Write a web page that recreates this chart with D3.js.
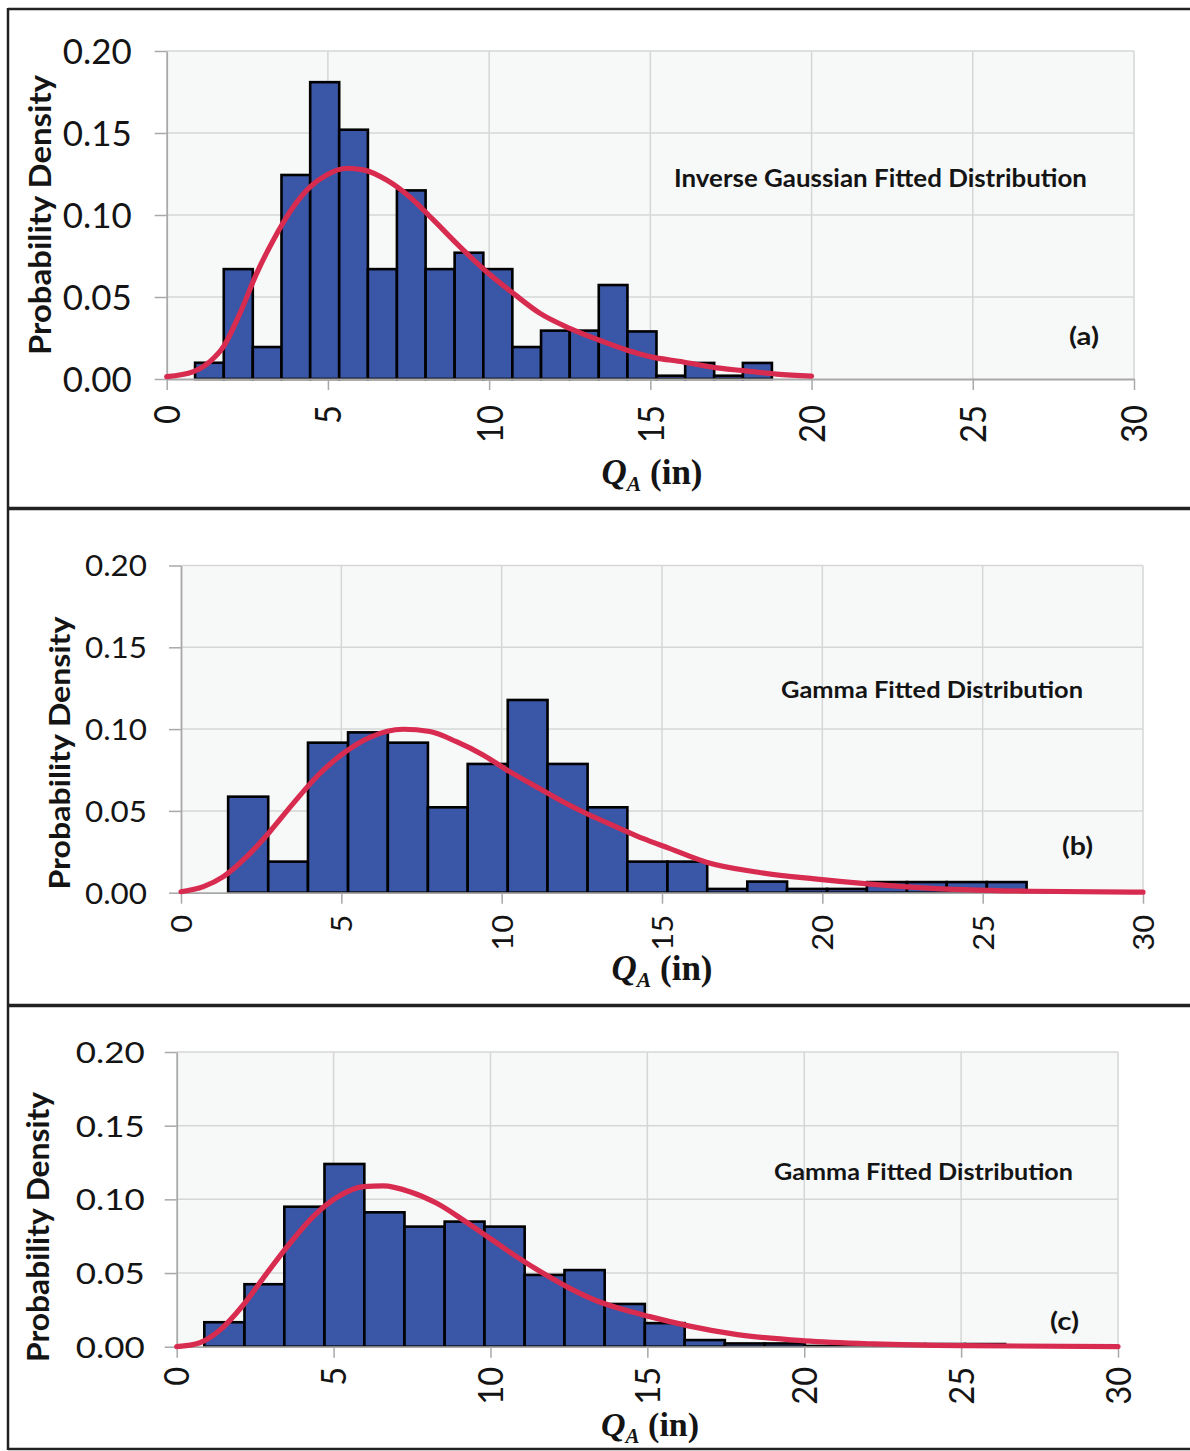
<!DOCTYPE html>
<html>
<head>
<meta charset="utf-8">
<script src="https://cdn.jsdelivr.net/npm/d3@7"></script>
<style>
  html, body { margin: 0; padding: 0; background: #ffffff; }
  svg { display: block; }
</style>
</head>
<body>
<svg id="chart" width="1190" height="1451"></svg>
<script>
// ---------------- DATA ----------------
const xTicks = [0, 5, 10, 15, 20, 25, 30];
const yTicks = [0.00, 0.05, 0.10, 0.15, 0.20];
const panelTags = ["(a)", "(b)", "(c)"];
const fitTitles = ["Inverse Gaussian Fitted Distribution", "Gamma Fitted Distribution", "Gamma Fitted Distribution"];
const yAxisTitle = "Probability Density";

// Panel (a): histogram bin edges (in) and densities
const edgesA = [0.88, 1.77, 2.67, 3.56, 4.45, 5.35, 6.24, 7.14, 8.03, 8.93, 9.82, 10.72, 11.61, 12.50, 13.40, 14.29, 15.19, 16.08, 16.98, 17.87, 18.77];
const densA  = [0.0099, 0.067, 0.0195, 0.1244, 0.181, 0.152, 0.067, 0.115, 0.067, 0.077, 0.067, 0.0195, 0.0295, 0.0295, 0.0573, 0.029, 0.002, 0.0098, 0.002, 0.0098];
// Panel (a): inverse Gaussian fitted curve
const fitXA = [0, 0.83, 1.34, 1.76, 2.27, 2.79, 3.31, 3.93, 4.44, 4.96, 5.58, 6.10, 6.82, 7.54, 8.27, 9.09, 9.92, 10.75, 11.58, 12.50, 13.44, 14.26, 15.10, 16.02, 16.95, 17.88, 18.91, 20.0];
const fitYA = [0.0014, 0.0045, 0.0106, 0.0197, 0.040, 0.0644, 0.0848, 0.105, 0.117, 0.1244, 0.1285, 0.1275, 0.1213, 0.111, 0.097, 0.0807, 0.0654, 0.0522, 0.040, 0.0309, 0.0235, 0.0177, 0.0132, 0.0104, 0.0071, 0.0051, 0.0030, 0.0018];

// Panel (b)
const edgesB = [1.47, 2.72, 3.96, 5.21, 6.45, 7.70, 8.94, 10.19, 11.43, 12.68, 13.92, 15.17, 16.41, 17.66, 18.90, 20.15, 21.39, 22.64, 23.88, 25.13, 26.37];
const densB  = [0.0587, 0.019, 0.0917, 0.098, 0.0917, 0.0522, 0.0787, 0.1178, 0.0787, 0.0522, 0.019, 0.019, 0.0023, 0.0068, 0.0023, 0.0023, 0.0065, 0.0065, 0.0065, 0.0065];
const fitXB = [0, 0.70, 1.32, 2.05, 2.77, 3.50, 4.23, 5.06, 5.89, 6.93, 7.76, 8.59, 9.42, 10.25, 11.08, 11.91, 12.74, 13.57, 14.40, 15.23, 16.41, 18.0, 19.76, 21.5, 23.12, 26.47, 30.0];
const fitYB = [0.0006, 0.0037, 0.0098, 0.022, 0.0373, 0.0546, 0.0709, 0.0852, 0.095, 0.0999, 0.0985, 0.0923, 0.0842, 0.074, 0.0648, 0.0556, 0.0475, 0.0403, 0.0332, 0.0271, 0.0185, 0.0125, 0.0084, 0.0052, 0.0030, 0.0009, 0.0003];

// Panel (c)
const edgesC = [0.88, 2.16, 3.43, 4.71, 5.98, 7.26, 8.54, 9.81, 11.09, 12.36, 13.64, 14.92, 16.19, 17.47, 18.74, 20.02, 21.30, 22.57, 23.85, 25.12, 26.40];
const densC  = [0.0166, 0.0424, 0.095, 0.124, 0.0912, 0.0815, 0.0849, 0.0815, 0.0487, 0.052, 0.029, 0.016, 0.0045, 0.0022, 0.0022, 0.0005, 0.0005, 0.0018, 0.0018, 0.0018];
const fitXC = [0, 0.74, 1.38, 2.12, 2.87, 3.61, 4.35, 5.10, 5.95, 6.58, 7.43, 8.29, 9.13, 9.98, 10.83, 11.68, 12.53, 13.38, 14.23, 15.08, 16.23, 17.87, 20.0, 22.2, 25.0, 30.0];
const fitYC = [0.0, 0.0027, 0.0113, 0.0283, 0.0498, 0.0702, 0.0883, 0.1012, 0.1086, 0.1091, 0.1052, 0.0973, 0.086, 0.0736, 0.0611, 0.0498, 0.0396, 0.0312, 0.0252, 0.0204, 0.0145, 0.0082, 0.0040, 0.0019, 0.0007, 0.0001];

// ---------------- LAYOUT / STYLE ----------------
const layouts = [
  { top: 8, bottom: 508, x0: 166.7, x1: 1134, yTop: 51, yBot: 379,
    yFont: 34, yLen: 69, yPad: 23, xFont: 36, xDigit: 19, xOff: 26,
    ylab: { x: 40, y: 215, len: 280, size: 31 },
    title: { x: 674, y: 187, len: 413, size: 24 },
    tag: { x: 1069, y: 345, len: 30, size: 24 },
    qa: { x: 652, y: 484, size: 35 } },
  { top: 508, bottom: 1005, x0: 181, x1: 1143, yTop: 565.5, yBot: 892.7,
    yFont: 29, yLen: 62, yPad: 22, xFont: 29, xDigit: 18, xOff: 22,
    ylab: { x: 60, y: 753, len: 273, size: 29 },
    title: { x: 781, y: 698, len: 302, size: 23 },
    tag: { x: 1062, y: 855, len: 31, size: 24 },
    qa: { x: 662, y: 980, size: 35 } },
  { top: 1005, bottom: 1449, x0: 176.7, x1: 1118, yTop: 1052, yBot: 1346.7,
    yFont: 29, yLen: 69, yPad: 20, xFont: 34, xDigit: 19, xOff: 20,
    ylab: { x: 38, y: 1227, len: 270, size: 31 },
    title: { x: 774, y: 1180, len: 299, size: 23 },
    tag: { x: 1050, y: 1330, len: 29, size: 24 },
    qa: { x: 650, y: 1436, size: 34 } }
];

const panels = [
  { edges: edgesA, dens: densA, fx: fitXA, fy: fitYA },
  { edges: edgesB, dens: densB, fx: fitXB, fy: fitYB },
  { edges: edgesC, dens: densC, fx: fitXC, fy: fitYC }
];

const BAR_FILL = "#3a56a6";
const CURVE = "#d82b50";
const GRID = "#d6d6d6";
const AXIS = "#a8a8a8";
const PLOT_BG = "#f7f9f9";
const FRAME = "#222222";
const SANS = "Lato, 'Open Sans', sans-serif";
const SERIF = "'Liberation Serif', 'DejaVu Serif', serif";

const svg = d3.select("#chart");

// ---------------- PANELS ----------------
panels.forEach((p, i) => {
  const L = layouts[i];
  const x = d3.scaleLinear().domain([0, 30]).range([L.x0, L.x1]);
  const y = d3.scaleLinear().domain([0, 0.20]).range([L.yBot, L.yTop]);
  const g = svg.append("g");

  // plot background
  g.append("rect")
    .attr("x", x(0)).attr("y", y(0.20))
    .attr("width", x(30) - x(0)).attr("height", y(0) - y(0.20))
    .attr("fill", PLOT_BG);

  // grid
  g.append("g").selectAll("line").data(yTicks.filter(d => d > 0)).join("line")
    .attr("x1", x(0)).attr("x2", x(30))
    .attr("y1", d => y(d)).attr("y2", d => y(d))
    .attr("stroke", GRID).attr("stroke-width", 1.5);
  g.append("g").selectAll("line").data(xTicks.filter(d => d > 0)).join("line")
    .attr("x1", d => x(d)).attr("x2", d => x(d))
    .attr("y1", y(0)).attr("y2", y(0.20))
    .attr("stroke", GRID).attr("stroke-width", 1.5);

  // bars
  const bins = p.dens.map((v, k) => ({ x0: p.edges[k], x1: p.edges[k + 1], v }));
  g.append("g").selectAll("rect").data(bins).join("rect")
    .attr("x", d => x(d.x0))
    .attr("y", d => y(d.v))
    .attr("width", d => x(d.x1) - x(d.x0))
    .attr("height", d => y(0) - y(d.v))
    .attr("fill", BAR_FILL)
    .attr("stroke", "#000")
    .attr("stroke-width", 2.6);

  // axes
  const yAxis = d3.axisLeft(y).tickValues(yTicks).tickFormat(d3.format(".2f"))
    .tickSize(12).tickSizeOuter(0).tickPadding(L.yPad);
  const ya = g.append("g").attr("transform", `translate(${x(0)},0)`).call(yAxis);
  ya.select(".domain").attr("stroke", AXIS).attr("stroke-width", 1.8);
  ya.selectAll(".tick line").attr("stroke", AXIS).attr("stroke-width", 1.5);
  ya.selectAll(".tick text")
    .attr("font-family", SANS).attr("font-size", L.yFont).attr("fill", "#141414")
    .attr("dy", "0.36em")
    .attr("textLength", L.yLen).attr("lengthAdjust", "spacingAndGlyphs");

  const xAxis = d3.axisBottom(x).tickValues(xTicks).tickFormat(d3.format("d"))
    .tickSize(11).tickSizeOuter(0);
  const xa = g.append("g").attr("transform", `translate(0,${y(0)})`).call(xAxis);
  xa.select(".domain").attr("stroke", AXIS).attr("stroke-width", 1.8);
  xa.selectAll(".tick line").attr("stroke", AXIS).attr("stroke-width", 1.5);
  xa.selectAll(".tick text")
    .attr("font-family", SANS).attr("font-size", L.xFont).attr("fill", "#141414")
    .attr("transform", "rotate(-90)")
    .attr("text-anchor", "end")
    .attr("x", -L.xOff).attr("y", 0).attr("dy", "0.36em")
    .attr("textLength", d => String(d).length * L.xDigit)
    .attr("lengthAdjust", "spacingAndGlyphs");

  // fitted curve
  const pts = p.fx.map((v, k) => [v, p.fy[k]]);
  const line = d3.line().x(d => x(d[0])).y(d => y(d[1])).curve(d3.curveMonotoneX);
  g.append("path").datum(pts)
    .attr("d", line)
    .attr("fill", "none")
    .attr("stroke", CURVE)
    .attr("stroke-width", 5.2)
    .attr("stroke-linecap", "round")
    .attr("stroke-linejoin", "round");

  // y axis title
  g.append("text")
    .attr("transform", `translate(${L.ylab.x},${L.ylab.y}) rotate(-90)`)
    .attr("text-anchor", "middle").attr("dy", "0.35em")
    .attr("font-family", SANS).attr("font-weight", 700).attr("font-size", L.ylab.size)
    .attr("fill", "#141414")
    .attr("textLength", L.ylab.len).attr("lengthAdjust", "spacingAndGlyphs")
    .text(yAxisTitle);

  // x axis title: Q_A (in)
  const qa = g.append("text")
    .attr("x", L.qa.x).attr("y", L.qa.y)
    .attr("text-anchor", "middle")
    .attr("font-family", SERIF).attr("font-size", L.qa.size).attr("fill", "#141414");
  qa.append("tspan").attr("font-weight", 700).attr("font-style", "italic").text("Q");
  qa.append("tspan").attr("font-style", "italic").attr("font-weight", 700)
    .attr("font-size", L.qa.size * 0.62).attr("dy", L.qa.size * 0.2).text("A");
  qa.append("tspan").attr("font-weight", 700).attr("dy", -L.qa.size * 0.2).text("\u00a0(in)");

  // fitted distribution title
  g.append("text")
    .attr("x", L.title.x).attr("y", L.title.y)
    .attr("font-family", SANS).attr("font-weight", 700).attr("font-size", L.title.size)
    .attr("fill", "#141414")
    .attr("textLength", L.title.len).attr("lengthAdjust", "spacingAndGlyphs")
    .text(fitTitles[i]);

  // panel tag
  g.append("text")
    .attr("x", L.tag.x).attr("y", L.tag.y)
    .attr("font-family", SANS).attr("font-weight", 700).attr("font-size", L.tag.size)
    .attr("fill", "#141414")
    .attr("textLength", L.tag.len).attr("lengthAdjust", "spacingAndGlyphs")
    .text(panelTags[i]);
});

// ---------------- FRAME ----------------
const frame = svg.append("g").attr("stroke", FRAME).attr("fill", "none");
frame.append("line").attr("x1", 8).attr("x2", 1190).attr("y1", 9).attr("y2", 9).attr("stroke-width", 2.5);
frame.append("line").attr("x1", 8).attr("x2", 8).attr("y1", 8).attr("y2", 1450).attr("stroke-width", 2.5);
frame.append("line").attr("x1", 8).attr("x2", 1190).attr("y1", 508.5).attr("y2", 508.5).attr("stroke-width", 3.5);
frame.append("line").attr("x1", 8).attr("x2", 1190).attr("y1", 1005.5).attr("y2", 1005.5).attr("stroke-width", 3.5);
frame.append("line").attr("x1", 8).attr("x2", 1190).attr("y1", 1449).attr("y2", 1449).attr("stroke-width", 2.5);
</script>
</body>
</html>
